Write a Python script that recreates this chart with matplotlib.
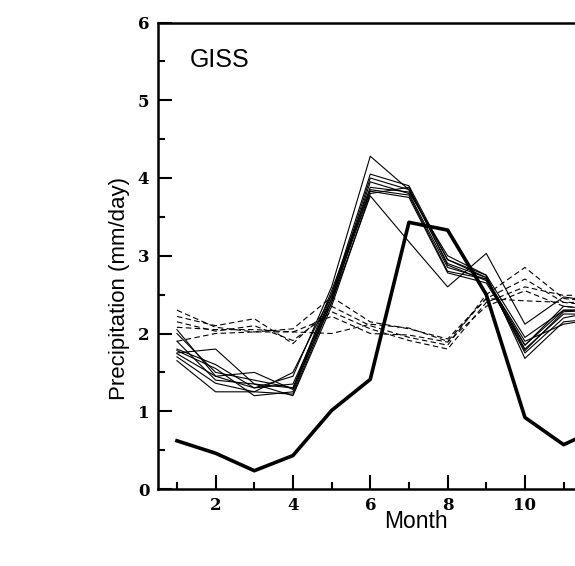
import matplotlib
matplotlib.use("Agg")
import matplotlib.pyplot as plt
from matplotlib.ticker import MultipleLocator, FixedLocator

months = list(range(1, 13))
x_major_ticks = [2, 4, 6, 8, 10]
x_minor_ticks = [1, 3, 5, 7, 9, 11]

# Model ensemble members (thin solid)
solid_runs = [
    [2.05, 1.45, 1.30, 1.45, 2.60, 4.28, 3.85, 2.95, 2.72, 1.85, 2.30, 2.30],
    [1.75, 1.80, 1.35, 1.30, 2.40, 3.77, 3.18, 2.60, 3.03, 2.12, 2.47, 2.40],
    [1.70, 1.36, 1.25, 1.50, 2.50, 4.05, 3.90, 2.95, 2.75, 1.95, 2.30, 2.30],
    [1.78, 1.55, 1.20, 1.25, 2.45, 4.00, 3.85, 2.90, 2.72, 1.80, 2.25, 2.25],
    [1.65, 1.25, 1.25, 1.22, 2.40, 3.95, 3.80, 2.85, 2.70, 1.75, 2.20, 2.30],
    [2.00, 1.50, 1.40, 1.30, 2.55, 3.88, 3.82, 3.00, 2.75, 1.68, 2.15, 2.20],
    [1.74, 1.45, 1.50, 1.28, 2.50, 3.85, 3.78, 2.80, 2.70, 1.90, 2.12, 2.20],
    [1.80, 1.60, 1.30, 1.35, 2.45, 3.83, 3.75, 2.78, 2.65, 1.85, 2.35, 2.30],
    [1.90, 1.40, 1.35, 1.20, 2.35, 3.80, 3.88, 2.88, 2.68, 1.78, 2.28, 2.30],
]

# Dashed ensemble members
dashed_runs = [
    [2.30, 2.08, 2.02, 2.06, 2.47, 2.15, 2.06, 1.93, 2.45, 2.70, 2.40, 2.40],
    [2.22, 2.10, 2.19, 1.87, 2.35, 2.10, 1.95, 1.85, 2.50, 2.85, 2.45, 2.40],
    [2.15, 2.03, 2.10, 1.91, 2.28, 2.06, 1.91, 1.80, 2.40, 2.60, 2.49, 2.50],
    [2.08, 2.05, 2.05, 2.02, 2.22, 2.00, 1.98, 1.89, 2.35, 2.55, 2.35, 2.30],
    [1.90, 2.00, 2.02, 2.02, 2.00, 2.12, 2.07, 1.90, 2.45, 2.42, 2.40, 2.35],
]

# Observations (thick)
observed = [0.62, 0.46, 0.235, 0.43, 1.01, 1.41, 3.43, 3.33, 2.50, 0.92, 0.57, 0.80]

fig = plt.figure(figsize=(5.75, 5.66), dpi=100)
ax = fig.add_axes([157.6 / 575, 77 / 566, 464 / 575, 466.5 / 566])

for run in dashed_runs:
    ax.plot(months, run, color="black", lw=0.8, ls=(0, (5, 3)))
for run in solid_runs:
    ax.plot(months, run, color="black", lw=0.8)
ax.plot(months, observed, color="black", lw=2.6)

ax.set_xlim(0.5, 12.5)
ax.set_ylim(0, 6)
ax.xaxis.set_major_locator(FixedLocator(x_major_ticks))
ax.xaxis.set_minor_locator(FixedLocator(x_minor_ticks))
ax.yaxis.set_major_locator(MultipleLocator(1))
ax.yaxis.set_minor_locator(MultipleLocator(0.5))
ax.tick_params(which="both", direction="in", width=1.5, top=False, right=False)
ax.tick_params(which="major", length=10, labelsize=12, pad=6)
ax.tick_params(which="minor", length=5)
for lab in ax.get_xticklabels() + ax.get_yticklabels():
    lab.set_fontfamily("DejaVu Serif")
    lab.set_fontweight("bold")
for sp in ax.spines.values():
    sp.set_linewidth(1.8)

fig.text(120 / 575, (566 - 289) / 566, "Precipitation (mm/day)", rotation=90,
         ha="center", va="center", fontsize=16, family="Liberation Sans")
fig.text(416 / 575, (566 - 522) / 566, "Month", ha="center", va="center",
         fontsize=16.5, family="Liberation Sans")
fig.text(190 / 575, (566 - 60) / 566, "GISS", ha="left", va="center",
         fontsize=18, family="Liberation Sans")

fig.savefig("out.png", dpi=100)
